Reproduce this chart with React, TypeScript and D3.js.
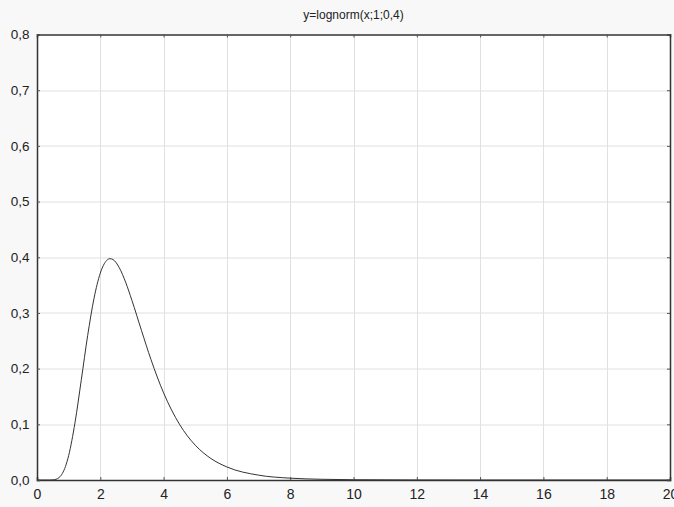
import { useEffect, useRef } from "react"
import * as d3 from "d3"

// values
const xValues = [0, 0.25, 0.4, 0.5, 0.6, 0.7, 0.8, 0.9, 1.0, 1.2, 1.4, 1.6, 1.8, 2.0, 2.2, 2.3, 2.4, 2.6, 2.8, 3.0, 3.3, 3.6, 4.0, 4.5, 5.0, 5.5, 6.0, 7.0, 8.0, 9.0, 10, 12, 14, 16, 18, 20]
const yValues = [0, 0, 0, 0.0003, 0.0013, 0.0045, 0.0116, 0.0244, 0.0438, 0.1028, 0.1799, 0.2591, 0.3258, 0.3715, 0.3942, 0.3974, 0.3959, 0.3812, 0.3552, 0.3225, 0.2687, 0.2165, 0.1564, 0.1002, 0.0625, 0.0384, 0.0234, 0.0087, 0.0033, 0.0013, 0.0005, 0.0001, 0, 0, 0, 0]
const xTicks = [0, 2, 4, 6, 8, 10, 12, 14, 16, 18, 20]
const yTicks = [0, 0.1, 0.2, 0.3, 0.4, 0.5, 0.6, 0.7, 0.8]
const title = "y=lognorm(x;1;0,4)"

export default function App() {
    const ref = useRef<SVGSVGElement>(null)

    useEffect(() => {
        const width = 674
        const height = 507
        const margin = { top: 34.5, right: 4, bottom: 27, left: 37 }
        const innerW = width - margin.left - margin.right
        const innerH = height - margin.top - margin.bottom

        const svg = d3.select(ref.current)
        svg.selectAll("*").remove()

        svg.append("rect")
            .attr("width", width)
            .attr("height", height)
            .attr("fill", "#f8f8f8")

        svg.append("text")
            .attr("x", margin.left + innerW / 2)
            .attr("y", 19)
            .attr("text-anchor", "middle")
            .attr("font-family", "Liberation Sans, Arial, sans-serif")
            .attr("font-size", 12)
            .attr("fill", "#222")
            .text(title)

        const g = svg.append("g")
            .attr("transform", `translate(${margin.left},${margin.top})`)

        const x = d3.scaleLinear().domain([0, 20]).range([0, innerW])
        const y = d3.scaleLinear().domain([0, 0.8]).range([innerH, 0])

        g.append("rect")
            .attr("width", innerW)
            .attr("height", innerH)
            .attr("fill", "#fff")

        // grid
        g.append("g")
            .selectAll("line")
            .data(xTicks.slice(1, -1))
            .join("line")
            .attr("x1", d => Math.round(x(d)) + 0.5)
            .attr("x2", d => Math.round(x(d)) + 0.5)
            .attr("y1", 0)
            .attr("y2", innerH)
            .attr("stroke", "#e0e0e0")
        g.append("g")
            .selectAll("line")
            .data(yTicks.slice(1, -1))
            .join("line")
            .attr("x1", 0)
            .attr("x2", innerW)
            .attr("y1", d => Math.round(y(d)) + 0.5)
            .attr("y2", d => Math.round(y(d)) + 0.5)
            .attr("stroke", "#e0e0e0")

        // axes, ticks pointing inward
        const font = "Liberation Sans, Arial, sans-serif"
        const fmt = (d: number) => d.toFixed(1).replace(".", ",")

        const bottom = g.append("g")
            .attr("transform", `translate(0,${innerH})`)
            .call(d3.axisBottom(x).tickValues(xTicks).tickSize(-3).tickPadding(9).tickFormat(d => String(d)))
        const top = g.append("g")
            .call(d3.axisTop(x).tickValues(xTicks).tickSize(-3).tickFormat(() => ""))
        const left = g.append("g")
            .call(d3.axisLeft(y).tickValues(yTicks).tickSize(-3).tickPadding(7.5).tickFormat(d => fmt(+d)))
        const right = g.append("g")
            .attr("transform", `translate(${innerW},0)`)
            .call(d3.axisRight(y).tickValues(yTicks).tickSize(-3).tickFormat(() => ""))

        for (const a of [bottom, top, left, right]) {
            a.select(".domain").attr("stroke", "#333").attr("stroke-width", 1.5)
            a.selectAll(".tick line").attr("stroke", "#555")
            a.selectAll("text").attr("font-family", font).attr("fill", "#222")
        }
        bottom.selectAll("text").attr("font-size", 14)
        left.selectAll("text").attr("font-size", 13.5)

        const line = d3.line<number>()
            .x((_, i) => x(xValues[i]))
            .y(d => y(d))
            .curve(d3.curveMonotoneX)

        g.append("path")
            .datum(yValues)
            .attr("d", line)
            .attr("fill", "none")
            .attr("stroke", "#333")
            .attr("stroke-width", 1)
    }, [])

    return (
        <div style={{ position: "fixed", left: 0, top: 0 }}>
            <svg ref={ref} width={674} height={507} style={{ display: "block" }} />
        </div>
    )
}
